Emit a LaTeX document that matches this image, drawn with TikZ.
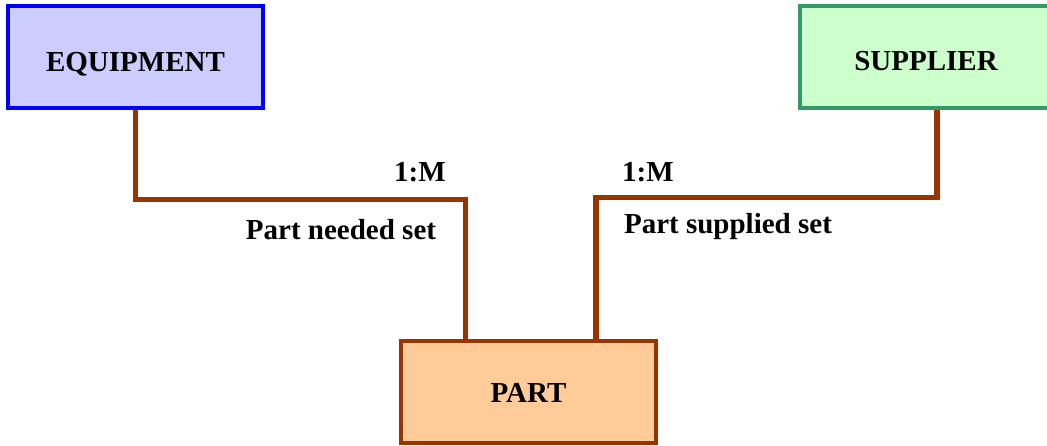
\documentclass[tikz,border=0pt]{standalone}
\usepackage{fontspec}
\setmainfont{Liberation Serif}
\usepackage{xcolor}

\definecolor{eqfill}{HTML}{CCCCFF}
\definecolor{eqline}{HTML}{0000FF}
\definecolor{supfill}{HTML}{CCFFCC}
\definecolor{supline}{HTML}{339966}
\definecolor{partfill}{HTML}{FFCC99}
\definecolor{rust}{HTML}{993300}

\begin{document}
\begin{tikzpicture}[x=1pt,y=-1pt,
  every node/.style={font=\fontsize{29}{34}\selectfont\bfseries},
  entity/.style={draw,rectangle,line width=4.5pt,minimum width=255pt,minimum height=102pt,text depth=0pt},
  link/.style={draw=rust,line width=5.5pt}]
\useasboundingbox (0,0) rectangle (1047,445);
\node[entity,draw=eqline,fill=eqfill,text height=29pt](equip) at (135.5,57){EQUIPMENT};
\node[entity,draw=supline,fill=supfill,minimum width=252pt,text height=26pt](supp) at (926,57){SUPPLIER};
\node[entity,draw=rust,fill=partfill,text height=21pt](part) at (528.5,392){PART};
\draw[link] (equip.south) -- ++(0,89) -| ([xshift=-63pt]part.north);
\draw[link] ([xshift=11pt]supp.south) -- ++(0,87) -| ([xshift=67.5pt]part.north);
\node(cardl) at (420,172){1:M};
\node(needed) at (341,230){Part needed set};
\node(cardr) at (648,172){1:M};
\node(supplied) at (728,227){Part supplied set};
\end{tikzpicture}
\end{document}
